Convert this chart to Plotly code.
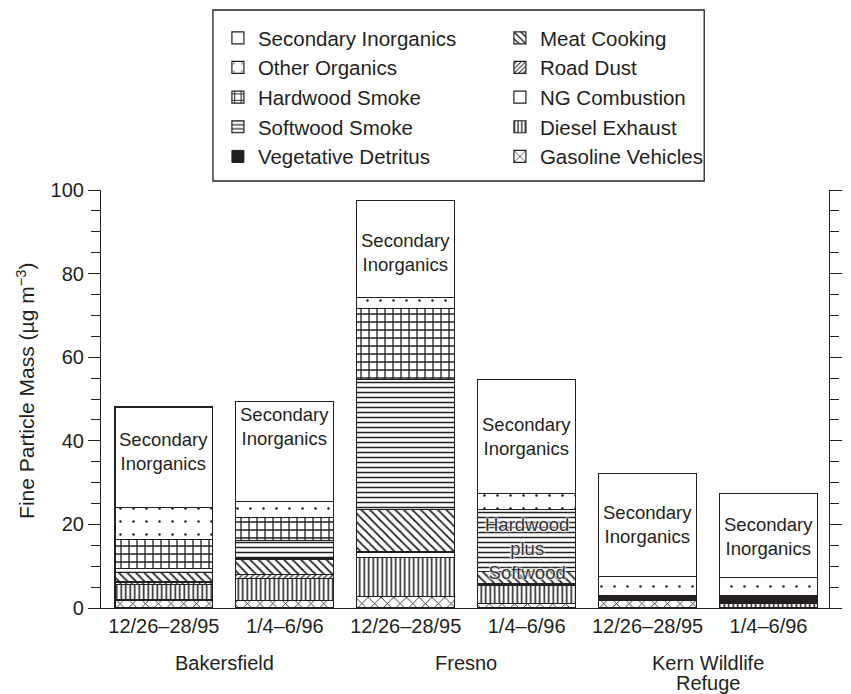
import plotly.graph_objects as go

# ---------------- data ----------------
categories = ["12/26–28/95", "1/4–6/96", "12/26–28/95", "1/4–6/96", "12/26–28/95", "1/4–6/96"]
sites = ["Bakersfield", "Fresno", "Kern Wildlife<br>Refuge"]

gasoline_vehicles = [1.9, 1.7, 2.7, 1.1, 1.7, 0.0]
diesel_exhaust = [3.8, 5.4, 9.4, 4.4, 0.0, 1.2]
ng_combustion = [0.0, 0.0, 1.3, 0.0, 0.0, 0.0]
road_dust = [0.5, 1.0, 0.0, 0.3, 0.0, 0.0]
meat_cooking = [2.2, 3.6, 10.2, 2.9, 0.0, 0.0]
vegetative_detritus = [0.0, 0.0, 0.0, 0.0, 1.2, 1.8]
softwood_smoke = [1.0, 4.4, 31.1, 14.9, 0.0, 0.0]   # bar 4 = hardwood plus softwood
hardwood_smoke = [7.0, 5.5, 16.9, 0.0, 0.0, 0.0]
other_organics = [7.6, 3.8, 2.6, 3.8, 4.7, 4.3]
secondary_inorganics = [24.1, 24.0, 23.3, 27.3, 24.5, 20.1]

# label heights (data units) for the "Secondary Inorganics" text inside each bar
si_label_y = [37.5, 43.4, 85.0, 41.0, 20.0, 17.2]

x = list(range(len(categories)))

FONT = "Liberation Sans, Arial, Helvetica, sans-serif"
INK = "#231f20"

# stacking order bottom -> top, with style and legend rank
series = [
    ("Gasoline Vehicles", gasoline_vehicles, dict(shape="x", size=9, solidity=0.18), 10),
    ("Diesel Exhaust", diesel_exhaust, dict(shape="|", size=4.5, solidity=0.35), 8),
    ("NG Combustion", ng_combustion, dict(shape=""), 6),
    ("Road Dust", road_dust, dict(shape="/", size=4, solidity=0.3), 4),
    ("Meat Cooking", meat_cooking, dict(shape="\\", size=6, solidity=0.3), 2),
    ("Vegetative Detritus", vegetative_detritus, "solid", 9),
    ("Softwood Smoke", softwood_smoke, dict(shape="-", size=5, solidity=0.3), 7),
    ("Hardwood Smoke", hardwood_smoke, dict(shape="+", size=8, solidity=0.3), 5),
    ("Other Organics", other_organics, dict(shape=".", size=13, solidity=0.03), 3),
    ("Secondary Inorganics", secondary_inorganics, dict(shape=""), 1),
]

fig = go.Figure()
for name, vals, style, rank in series:
    if style == "solid":
        marker = dict(color=INK, line=dict(color=INK, width=1))
    else:
        pat = dict(style)
        pat.update(fgcolor=INK, bgcolor="white", fillmode="replace")
        marker = dict(color="white", pattern=pat, line=dict(color=INK, width=1.2))
    fig.add_trace(go.Bar(
        x=x, y=vals, name=name, marker=marker, width=0.81,
        legendrank=rank, hoverinfo="name+y",
    ))

# "Secondary Inorganics" labels
for xi, yl in zip(x, si_label_y):
    fig.add_annotation(x=xi, y=yl, xref="x", yref="y", text="Secondary<br>Inorganics",
                       showarrow=False, font=dict(family=FONT, size=18.5, color=INK))

# "Hardwood plus Softwood" label on bar 4
base4 = gasoline_vehicles[3] + diesel_exhaust[3] + ng_combustion[3] + road_dust[3] + meat_cooking[3] + vegetative_detritus[3]
fig.add_annotation(x=3, y=base4 + softwood_smoke[3] / 2, xref="x", yref="y",
                   text="Hardwood<br>plus<br>Softwood", showarrow=False, yshift=-8,
                   font=dict(family=FONT, size=18.5, color="#333",
                             shadow="0 0 2px white, 0 0 2px white, 0 0 3px white"))

# site labels (each line placed separately for tighter line spacing)
for i, s in enumerate(sites):
    for j, line in enumerate(s.split("<br>")):
        fig.add_annotation(x=(x[2 * i] + x[2 * i + 1]) / 2, y=0, xref="x", yref="paper",
                           yanchor="top", yshift=-42 - 20 * j, text=line, showarrow=False,
                           font=dict(family=FONT, size=20, color=INK))

# y-axis title
fig.add_annotation(x=-0.104, y=0.52, xref="paper", yref="paper", textangle=-90,
                   text="Fine Particle Mass (µg m<sup>−3</sup>)", showarrow=False,
                   xanchor="center", yanchor="middle",
                   font=dict(family=FONT, size=21, color=INK))

# legend frame
fig.add_shape(type="rect", xref="paper", yref="paper",
              x0=0.1538, x1=0.8286, y0=1.0215, y1=1.4306,
              line=dict(color=INK, width=1.3), fillcolor="white", layer="below")

fig.update_layout(
    width=851, height=694,
    margin=dict(l=101, r=9, t=190, b=86),
    barmode="stack", bargap=0.19,
    paper_bgcolor="white", plot_bgcolor="white",
    font=dict(family=FONT, size=20, color=INK),
    showlegend=True,
    legend=dict(
        orientation="h", traceorder="normal",
        x=0.1606, xanchor="left", y=1.4115, yanchor="top",
        entrywidth=237, entrywidthmode="pixels",
        borderwidth=0, bgcolor="rgba(0,0,0,0)",
        font=dict(family=FONT, size=20.5, color=INK),
    ),
    xaxis=dict(
        range=[-0.52, 5.5], tickmode="array", tickvals=x, ticktext=categories,
        showline=True, linecolor=INK, linewidth=1.2, ticks="", showgrid=False,
        zeroline=False, tickfont=dict(family=FONT, size=20, color=INK),
    ),
    yaxis=dict(
        range=[0, 100], tickmode="linear", tick0=0, dtick=20,
        ticks="outside", ticklen=12, tickwidth=1.2, tickcolor=INK,
        minor=dict(dtick=5, ticks="outside", ticklen=9, tickwidth=1.2, tickcolor=INK),
        showline=True, linecolor=INK, linewidth=1.2, mirror="ticks",
        showgrid=False, zeroline=False,
        tickfont=dict(family=FONT, size=20, color=INK),
    ),
)

fig.write_html("out.html")
